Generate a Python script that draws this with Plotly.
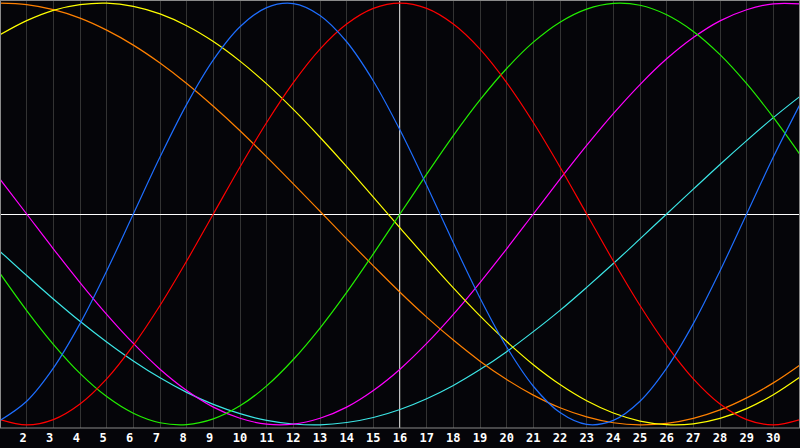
import plotly.graph_objects as go

days = list(range(1, 32))
tick_days = list(range(2, 31))
tick_labels = [str(d) for d in tick_days]
today = 16

red = [-0.975, -1.000, -0.975, -0.901, -0.782, -0.623, -0.434, -0.223, 0.000, 0.223,
       0.434, 0.623, 0.782, 0.901, 0.975, 1.000, 0.975, 0.901, 0.782, 0.623,
       0.434, 0.223, 0.000, -0.223, -0.434, -0.623, -0.782, -0.901, -0.975, -1.000, -0.975]
blue = [-0.979, -0.888, -0.731, -0.520, -0.270, 0.000, 0.270, 0.520, 0.731, 0.888,
        0.979, 0.998, 0.942, 0.817, 0.631, 0.398, 0.136, -0.136, -0.398, -0.631,
        -0.817, -0.942, -0.998, -0.979, -0.888, -0.731, -0.520, -0.270, 0.000, 0.270, 0.520]
green = [-0.282, -0.458, -0.618, -0.756, -0.866, -0.945, -0.990, -0.999, -0.972, -0.910,
         -0.815, -0.690, -0.541, -0.372, -0.189, 0.000, 0.189, 0.372, 0.541, 0.690,
         0.815, 0.910, 0.972, 0.999, 0.990, 0.945, 0.866, 0.756, 0.618, 0.458, 0.282]
yellow = [0.850, 0.917, 0.966, 0.993, 1.000, 0.985, 0.949, 0.893, 0.818, 0.725,
          0.617, 0.496, 0.364, 0.225, 0.080, -0.066, -0.210, -0.350, -0.483, -0.605,
          -0.715, -0.809, -0.886, -0.944, -0.982, -0.999, -0.995, -0.969, -0.923, -0.857, -0.773]
orange = [1.000, 0.993, 0.969, 0.929, 0.872, 0.801, 0.716, 0.619, 0.511, 0.395,
          0.271, 0.143, 0.013, -0.118, -0.246, -0.371, -0.489, -0.598, -0.698, -0.785,
          -0.859, -0.919, -0.962, -0.990, -1.000, -0.993, -0.969, -0.929, -0.872, -0.801, -0.716]
magenta = [0.165, 0.000, -0.165, -0.325, -0.476, -0.614, -0.736, -0.837, -0.916, -0.969,
           -0.997, -0.997, -0.969, -0.916, -0.837, -0.736, -0.614, -0.476, -0.325, -0.165,
           0.000, 0.165, 0.325, 0.476, 0.614, 0.736, 0.837, 0.916, 0.969, 0.997, 0.997]
cyan = [-0.177, -0.292, -0.403, -0.509, -0.607, -0.697, -0.777, -0.846, -0.903, -0.947,
        -0.979, -0.996, -1.000, -0.989, -0.965, -0.927, -0.876, -0.813, -0.738, -0.653,
        -0.558, -0.457, -0.348, -0.235, -0.118, 0.000, 0.118, 0.235, 0.348, 0.457, 0.558]

series = [
    (cyan, "#3ce6e6"),
    (magenta, "#ff00ff"),
    (orange, "#ff8000"),
    (yellow, "#ffff00"),
    (green, "#22ee00"),
    (red, "#ff0000"),
    (blue, "#1e6eff"),
]

BG = "#050509"
GRID = "#333333"
FRAME = "#8a8a8a"

fig = go.Figure()
for vals, col in series:
    fig.add_trace(go.Scatter(x=days, y=vals, mode="lines",
                             line=dict(color=col, width=1.2, shape="spline", smoothing=1.0),
                             hoverinfo="skip", showlegend=False))

labels_shifted = [t + "\u00a0" if len(t) == 1 else t for t in tick_labels]

fig.update_layout(
    width=800, height=448,
    margin=dict(l=0, r=0, t=0, b=20),
    paper_bgcolor=BG, plot_bgcolor=BG,
    xaxis=dict(range=[days[0], days[-1]], showgrid=True, gridcolor=GRID, gridwidth=1,
               tickvals=tick_days, ticktext=labels_shifted, ticks="",
               tickfont=dict(family="DejaVu Sans Mono", size=12, color="white", weight="bold"),
               ticklabelstandoff=1,
               zeroline=False, showline=False, fixedrange=True),
    yaxis=dict(range=[-1.015, 1.015], showgrid=False, showticklabels=False,
               zeroline=True, zerolinecolor="white", zerolinewidth=1,
               showline=False, fixedrange=True),
    shapes=[
        dict(type="line", xref="x", yref="paper", x0=today, x1=today, y0=0, y1=1,
             line=dict(color="white", width=1.5), layer="below"),
        dict(type="line", xref="paper", yref="paper", x0=0, x1=0, y0=0, y1=1,
             line=dict(color=FRAME, width=2)),
        dict(type="line", xref="paper", yref="paper", x0=1, x1=1, y0=0, y1=1,
             line=dict(color=FRAME, width=2)),
        dict(type="line", xref="paper", yref="paper", x0=0, x1=1, y0=1, y1=1,
             line=dict(color=FRAME, width=2)),
        dict(type="line", xref="paper", yref="paper", x0=0, x1=1, y0=0, y1=0,
             line=dict(color=FRAME, width=1)),
    ],
)

fig.write_html(
    "out.html",
    config={"displayModeBar": False},
    post_script="document.body.style.margin='0';document.body.style.background='#050509';document.body.style.overflow='hidden';",
)
